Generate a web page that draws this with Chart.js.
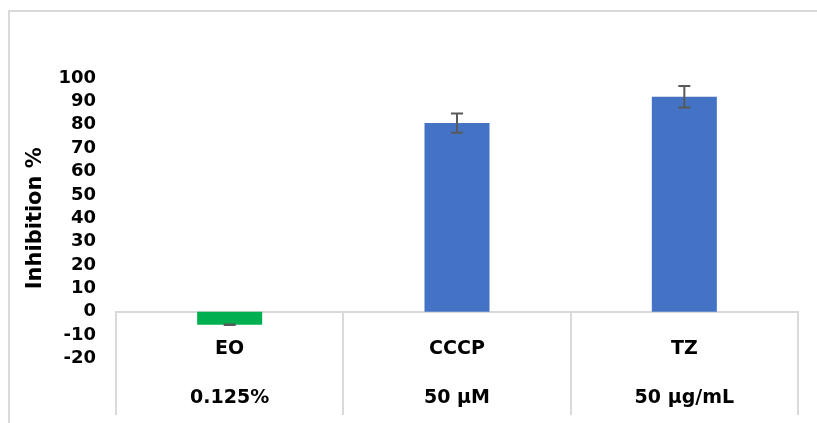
<!DOCTYPE html>
<html>
<head>
<meta charset="utf-8">
<script src="https://cdn.jsdelivr.net/npm/chart.js@4/dist/chart.umd.min.js"></script>
<style>
  html, body { margin: 0; padding: 0; background: #fff; }
  #wrap { position: relative; width: 817px; height: 423px; overflow: hidden; }
  #frame { position: absolute; left: 8px; top: 10px; width: 900px; height: 500px;
           border: 2px solid #d9d9d9; box-sizing: border-box; }
  #chart { position: absolute; left: 0; top: 0; }
</style>
</head>
<body>
<div id="wrap">
  <div id="frame"></div>
  <canvas id="chart" width="817" height="423"></canvas>
</div>
<script>
// Treatments and their concentrations
const treatments = ['EO', 'CCCP', 'TZ'];
const concentrations = ['0.125%', '50 µM', '50 µg/mL'];
// Mean inhibition (%) and standard deviation per treatment
const inhibition = [-5.6, 80.7, 92.0];
const stdDev = [0.1, 4.1, 4.6];
const barColors = ['#00B050', '#4472C4', '#4472C4'];
// Y axis range and step
const yMin = -20;
const yMax = 100;
const yStep = 10;

// Two-row category labels: treatment, blank spacer, concentration
const categoryLabels = treatments.map((t, i) => [t, '', concentrations[i]]);

// Draws symmetric error bars with caps on top of each bar
const errorBars = {
  id: 'errorBars',
  afterDatasetsDraw(chart) {
    const { ctx, scales: { y } } = chart;
    const meta = chart.getDatasetMeta(0);
    ctx.save();
    ctx.strokeStyle = '#595959';
    ctx.lineWidth = 2;
    meta.data.forEach((bar, i) => {
      const x = bar.x;
      const yTop = y.getPixelForValue(inhibition[i] + stdDev[i]);
      const yBot = y.getPixelForValue(inhibition[i] - stdDev[i]);
      const cap = 6;
      ctx.beginPath();
      ctx.moveTo(x, yTop); ctx.lineTo(x, yBot);
      ctx.moveTo(x - cap, yTop); ctx.lineTo(x + cap, yTop);
      ctx.moveTo(x - cap, yBot); ctx.lineTo(x + cap, yBot);
      ctx.stroke();
    });
    ctx.restore();
  }
};

new Chart(document.getElementById('chart'), {
  type: 'bar',
  data: {
    labels: categoryLabels,
    datasets: [{
      data: inhibition,
      backgroundColor: barColors,
      borderWidth: 0,
      categoryPercentage: 1,
      barPercentage: 0.286
    }]
  },
  options: {
    responsive: false,
    animation: false,
    layout: { padding: { top: 78, bottom: 64.6, left: 0, right: 19 } },
    plugins: { legend: { display: false }, tooltip: { enabled: false } },
    scales: {
      x: {
        position: { y: 0 },
        grid: {
          display: true,
          drawOnChartArea: false,
          drawTicks: true,
          tickLength: 102,
          color: '#d9d9d9',
          tickColor: '#d9d9d9',
          lineWidth: 2,
          offset: true
        },
        border: { display: true, color: '#d9d9d9', width: 2 },
        ticks: {
          padding: -77,
          maxRotation: 0,
          autoSkip: false,
          color: '#000',
          font: { family: 'DejaVu Sans', weight: 'bold', size: 19, lineHeight: 1.29 }
        }
      },
      y: {
        min: yMin,
        max: yMax,
        afterFit(scale) { scale.width = 116; },
        grid: { display: false, drawTicks: false },
        border: { display: false },
        ticks: {
          stepSize: yStep,
          autoSkip: false,
          padding: 20,
          color: '#000',
          font: { family: 'DejaVu Sans', weight: 'bold', size: 18 }
        },
        title: {
          display: true,
          text: 'Inhibition %',
          color: '#000',
          padding: { top: 23, bottom: 0 },
          font: { family: 'DejaVu Sans', weight: 'bold', size: 21 }
        }
      }
    }
  },
  plugins: [errorBars]
});
</script>
</body>
</html>
